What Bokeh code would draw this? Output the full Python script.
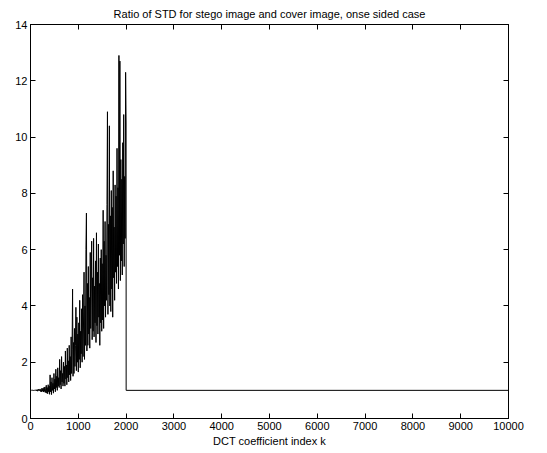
from bokeh.plotting import figure
from bokeh.models import LinearAxis, FixedTicker, Range1d
from bokeh.embed import file_html
from bokeh.resources import INLINE
import numpy as np

# Ratio of STD (stego / cover) for the first 2000 DCT coefficients, step 10
ratio_low_band = [
    1.00, 1.00, 1.01, 0.99, 1.00, 1.01, 1.00, 0.99, 1.01, 1.00,
    1.00, 1.02, 0.98, 1.01, 1.03, 0.97, 1.00, 1.04, 0.98, 1.02,
    1.05, 0.96, 1.03, 0.95, 1.08, 0.97, 1.06, 0.94, 1.10, 0.96,
    1.12, 0.92, 1.05, 1.18, 0.90, 1.10, 0.88, 1.20, 0.95, 1.15,
    0.86, 1.55, 0.95, 1.30, 0.85, 1.45, 1.00, 1.25, 0.90, 1.60,
    1.05, 1.40, 0.95, 1.75, 1.10, 1.50, 1.00, 1.80, 1.15, 1.45,
    1.10, 2.10, 1.20, 1.70, 1.05, 2.20, 1.30, 1.60, 1.15, 2.00,
    1.25, 1.85, 1.15, 2.40, 1.40, 1.90, 1.20, 2.50, 1.45, 2.05,
    1.30, 2.60, 1.55, 2.20, 1.35, 2.90, 1.60, 2.45, 4.60, 1.50,
    2.70, 1.60, 3.20, 1.85, 2.60, 3.95, 1.70, 3.60, 2.00, 3.00,
    1.65, 3.40, 2.10, 4.20, 1.80, 3.10, 2.30, 3.90, 2.00, 4.40,
    2.20, 3.50, 5.20, 2.10, 4.00, 2.60, 6.00, 7.30, 2.40, 4.80,
    2.60, 5.40, 3.00, 4.30, 2.50, 5.90, 3.20, 4.60, 6.30, 2.80,
    5.00, 3.10, 6.40, 2.90, 4.70, 3.40, 5.60, 2.70, 6.60, 3.30,
    5.20, 3.00, 6.20, 3.60, 4.80, 2.60, 5.70, 3.40, 6.00, 3.10,
    5.50, 3.50, 7.40, 3.20, 6.30, 4.00, 7.00, 3.60, 5.80, 4.20,
    7.60, 10.90, 3.70, 6.90, 4.40, 10.40, 4.00, 7.20, 3.80, 8.10,
    4.60, 7.50, 3.60, 8.80, 5.00, 6.80, 4.20, 8.30, 5.20, 7.90,
    4.80, 9.60, 5.40, 8.20, 4.60, 12.90, 5.80, 12.70, 4.90, 9.20,
    5.60, 8.50, 5.10, 9.80, 6.20, 10.80, 5.40, 8.60, 6.40, 12.30,
    10.50,
]
k_low_band = list(np.arange(0, 2001, 10))

# Untouched coefficients beyond k = 2000 keep a ratio of 1
k_high_band = [2001, 10000]
ratio_high_band = [1.0, 1.0]

x_ticks = [0, 1000, 2000, 3000, 4000, 5000, 6000, 7000, 8000, 9000, 10000]
y_ticks = [0, 2, 4, 6, 8, 10, 12, 14]

FONT = "Liberation Sans"

p = figure(
    width=547, height=453,
    output_backend="svg", toolbar_location=None,
    x_range=Range1d(0, 10000), y_range=Range1d(0, 14),
    min_border_left=30, min_border_right=39,
    min_border_top=24, min_border_bottom=35,
    title="Ratio of STD for stego image and cover image, onse sided case",
)
p.background_fill_color = "white"
p.border_fill_color = "white"
p.outline_line_color = "black"
p.outline_line_width = 1
p.xgrid.visible = False
p.ygrid.visible = False

p.title.align = "center"
p.title.text_font = FONT
p.title.text_font_size = "11px"
p.title.text_font_style = "normal"
p.title.text_color = "black"
p.title.standoff = 10

x_all = k_low_band + k_high_band
y_all = ratio_low_band + ratio_high_band
p.line(x_all, y_all, line_color="black", line_width=1)


def style_axis(ax, ticks, show_labels=True):
    ax.ticker = FixedTicker(ticks=ticks)
    ax.minor_tick_line_color = None
    ax.major_tick_in = 5
    ax.major_tick_out = 0
    ax.axis_line_color = "black"
    ax.major_tick_line_color = "black"
    ax.major_label_text_font = FONT
    ax.major_label_text_font_size = "11px"
    ax.major_label_text_color = "black"
    ax.major_label_standoff = 3
    if not show_labels:
        ax.major_label_overrides = {t: "" for t in ticks}
        ax.major_label_standoff = 0


style_axis(p.xaxis[0], x_ticks)
style_axis(p.yaxis[0], y_ticks)
p.xaxis[0].axis_label = "DCT coefficient index k"
p.xaxis[0].axis_label_text_font = FONT
p.xaxis[0].axis_label_text_font_size = "11px"
p.xaxis[0].axis_label_text_font_style = "normal"
p.xaxis[0].axis_label_text_color = "black"
p.xaxis[0].axis_label_standoff = 2

top_axis = LinearAxis()
style_axis(top_axis, x_ticks, show_labels=False)
p.add_layout(top_axis, "above")
right_axis = LinearAxis()
style_axis(right_axis, y_ticks, show_labels=False)
p.add_layout(right_axis, "right")

open("out.html", "w").write(file_html(p, INLINE))
